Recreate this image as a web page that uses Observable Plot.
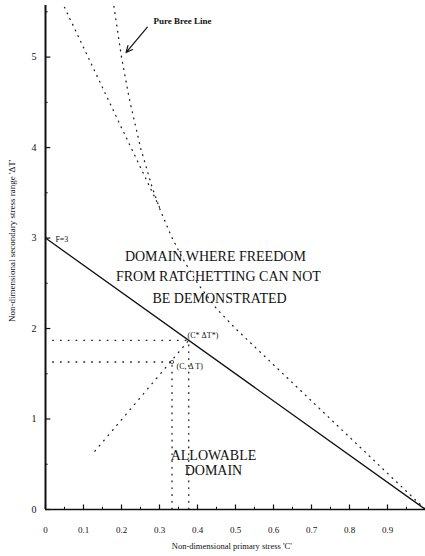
<!DOCTYPE html>
<html>
<head>
<meta charset="utf-8">
<script src="https://cdn.jsdelivr.net/npm/d3@7"></script>
<script src="https://cdn.jsdelivr.net/npm/@observablehq/plot@0.6"></script>
<style>
  html, body { margin: 0; padding: 0; background: #fff; }
  #chart svg { display: block; }
  #chart svg, #chart svg text { font-family: "Liberation Serif", "DejaVu Serif", serif !important; }
</style>
</head>
<body>
<div id="chart"></div>
<script>
// ---- data ----
const xTickValues = [0, 0.1, 0.2, 0.3, 0.4, 0.5, 0.6, 0.7, 0.8, 0.9];
const xTickLabels = ["0", "0.1", "0.2", "0.3", "0.4", "0.5", "0.6", "0.7", "0.8", "0.9"];
const xMinorTicks = [0.05, 0.15, 0.25, 0.35, 0.45, 0.55, 0.65, 0.75, 0.85, 0.95];
const yTickValues = [0, 1, 2, 3, 4, 5];
const yTickLabels = ["0", "1", "2", "3", "4", "5"];
const yMinorTicks = [0.5, 1.5, 2.5, 3.5, 4.5, 5.5];

// Pure Bree line (dotted)
const breeC = [0.18, 0.2, 0.22, 0.25, 0.28, 0.3, 0.33, 0.36, 0.4, 0.45, 0.5, 0.6, 0.7, 0.8, 0.9, 1.0];
const breeT = [5.56, 5.0, 4.55, 4.0, 3.57, 3.33, 3.03, 2.78, 2.5, 2.22, 2.0, 1.6, 1.2, 0.8, 0.4, 0];
// second (left) dotted line, merging into the Bree line
const leftC = [0.05, 0.2, 0.3];
const leftT = [5.55, 4.22, 3.34];
// solid limit line F=3
const limitC = [0, 1];
const limitT = [3, 0];
// points
const pointC = 0.333, pointT = 1.63;     // (C, ΔT)
const starC = 0.377, starT = 1.87;       // (C*, ΔT*)
const radialStart = [0.13, 0.645];

const bree = breeC.map((c, i) => ({c, t: breeT[i]}));
const left = leftC.map((c, i) => ({c, t: leftT[i]}));
const limit = limitC.map((c, i) => ({c, t: limitT[i]}));

const serif = "Liberation Serif";
const dotted = {stroke: "#222", strokeWidth: 1.3, strokeDasharray: "0.8,5.5", strokeLinecap: "round", clip: true};

const chart = Plot.plot({
  width: 425,
  height: 556,
  marginLeft: 45,
  marginRight: 0,
  marginTop: 5,
  marginBottom: 47,
  x: {domain: [0, 1]},
  y: {domain: [0, 5.57]},
  style: {fontFamily: serif, background: "#fff", color: "#111"},
  marks: [
    Plot.axisX(xTickValues, {tickSize: 0, tickPadding: 17, fontSize: 9, fontFamily: serif,
      tickFormat: d => xTickLabels[xTickValues.indexOf(d)], label: null}),
    Plot.axisY(yTickValues, {tickSize: 0, tickPadding: 9, fontSize: 10, fontFamily: serif,
      tickFormat: d => yTickLabels[yTickValues.indexOf(d)], label: null}),
    // axis lines
    Plot.ruleX([0], {stroke: "#111", strokeWidth: 2}),
    Plot.ruleY([0], {stroke: "#111", strokeWidth: 1.4}),
    // inward ticks
    Plot.ruleY(yTickValues, {x1: 0, x2: 0.014, stroke: "#111", strokeWidth: 1.2}),
    Plot.ruleY(yMinorTicks, {x1: 0, x2: 0.007, stroke: "#111", strokeWidth: 1}),
    Plot.ruleX(xTickValues, {y1: 0, y2: 0.05, stroke: "#111", strokeWidth: 1.2}),
    Plot.ruleX(xMinorTicks, {y1: 0, y2: 0.025, stroke: "#111", strokeWidth: 1}),
    // dotted curves
    Plot.line(bree, {x: "c", y: "t", ...dotted}),
    Plot.line(left, {x: "c", y: "t", ...dotted}),
    // construction lines
    Plot.ruleY([starT], {x1: 0.02, x2: starC, ...dotted, strokeDasharray: "0.8,7"}),
    Plot.ruleY([pointT], {x1: 0.02, x2: pointC, ...dotted, strokeDasharray: "0.8,7"}),
    Plot.ruleX([pointC], {y1: 0, y2: pointT, ...dotted, strokeDasharray: "0.8,6"}),
    Plot.ruleX([starC], {y1: 0, y2: starT, ...dotted, strokeDasharray: "0.8,6"}),
    Plot.link([{x1: radialStart[0], y1: radialStart[1], x2: starC, y2: starT}],
      {x1: "x1", y1: "y1", x2: "x2", y2: "y2", ...dotted, strokeDasharray: "0.8,6"}),
    // solid F=3 line
    Plot.line(limit, {x: "c", y: "t", stroke: "#111", strokeWidth: 1.3}),
    Plot.dot([{c: pointC, t: pointT}], {x: "c", y: "t", r: 1.6, stroke: "#222", strokeWidth: 0.8, fill: "none"}),
    // arrow to Bree line
    Plot.arrow([{x1: 0.268, y1: 5.33, x2: 0.212, y2: 5.05}],
      {x1: "x1", y1: "y1", x2: "x2", y2: "y2", stroke: "#111", strokeWidth: 1.2, headLength: 9, headAngle: 50}),
    // annotations
    Plot.text(["Pure Bree Line"], {x: 0.284, y: 5.40, textAnchor: "start", fontSize: 9, fontWeight: "bold", fontFamily: serif}),
    Plot.text(["F=3"], {x: 0.026, y: 2.99, textAnchor: "start", fontSize: 8, fontFamily: serif}),
    Plot.text(["DOMAIN WHERE FREEDOM"], {x: 0.447, y: 2.80, fontSize: 14, fontFamily: serif}),
    Plot.text(["FROM RATCHETTING CAN NOT"], {x: 0.455, y: 2.57, fontSize: 14, fontFamily: serif}),
    Plot.text(["BE DEMONSTRATED"], {x: 0.458, y: 2.33, fontSize: 14, fontFamily: serif}),
    Plot.text(["ALLOWABLE"], {x: 0.442, y: 0.60, fontSize: 14, fontFamily: serif}),
    Plot.text(["DOMAIN"], {x: 0.442, y: 0.43, fontSize: 14, fontFamily: serif}),
    Plot.text(["(C* ΔT*)"], {x: 0.374, y: 1.92, textAnchor: "start", fontSize: 8, fontFamily: serif}),
    Plot.text(["(C, Δ T)"], {x: 0.345, y: 1.58, textAnchor: "start", fontSize: 8, fontFamily: serif}),
    // axis titles
    Plot.text(["Non-dimensional primary stress 'C'"], {x: 0.49, frameAnchor: "bottom", dy: 39, fontSize: 8.5, fontFamily: serif}),
    Plot.text(["Non-dimensional secondary stress range 'ΔT'"], {x: 0, y: 2.97, rotate: -90, dx: -33, fontSize: 9, fontFamily: serif})
  ]
});
document.getElementById("chart").append(chart);
</script>
</body>
</html>
